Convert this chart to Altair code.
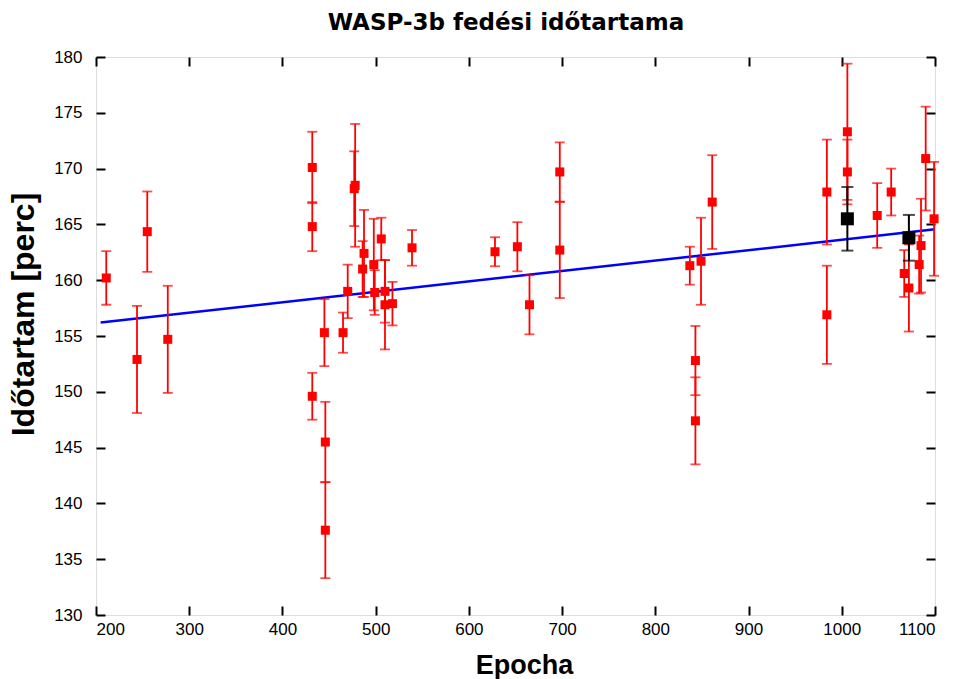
import altair as alt
import pandas as pd

TITLE = "WASP-3b fedési időtartama"

# Red measurements: epoch, duration [min], error
red_epoch = [211, 244, 255, 277, 432, 432, 432, 445, 446, 446, 465, 470, 477, 478,
             486, 487.5, 498, 499, 506, 510, 510, 518, 539, 628, 652, 665, 697.5,
             697.5, 837, 843, 843, 849, 861, 984, 984, 1006, 1006, 1038, 1053, 1067,
             1072, 1083, 1085, 1090, 1099]
red_dur = [160.2, 152.9, 164.35, 154.7, 170.1, 164.8, 149.6, 155.3, 145.5, 137.6,
           155.3, 159.0, 168.2, 168.5, 161.0, 162.4, 161.4, 158.9, 163.7, 159.0,
           157.8, 157.9, 162.9, 162.55, 163.0, 157.8, 169.7, 162.7, 161.3, 152.8,
           147.4, 161.7, 167.0, 167.9, 156.9, 173.3, 169.7, 165.8, 167.9, 160.6,
           159.3, 161.4, 163.1, 170.9, 165.5]
red_err = [2.4, 4.8, 3.6, 4.8, 3.2, 2.2, 2.1, 3.0, 3.6, 4.3, 1.8, 2.4, 3.35, 5.5,
           2.5, 3.9, 4.1, 2.0, 1.9, 2.8, 4.0, 1.95, 1.6, 1.3, 2.2, 2.65, 2.65, 4.3,
           1.7, 3.1, 3.9, 3.9, 4.2, 4.7, 4.4, 6.1, 2.9, 2.9, 2.1, 2.1, 3.9, 2.6,
           4.2, 4.65, 5.1]

# Black measurements
blk_epoch = [1006, 1072]
blk_dur = [165.5, 163.8]
blk_err = [2.85, 2.05]

# Fitted linear trend (end points)
fit_epoch = [205, 1100]
fit_dur = [156.2, 164.56]

x_ticks = [200, 300, 400, 500, 600, 700, 800, 900, 1000, 1100]
y_ticks = [130, 135, 140, 145, 150, 155, 160, 165, 170, 175, 180]

red = pd.DataFrame({"e": red_epoch, "d": red_dur, "err": red_err})
red["lo"] = red["d"] - red["err"]
red["hi"] = red["d"] + red["err"]
blk = pd.DataFrame({"e": blk_epoch, "d": blk_dur, "err": blk_err})
blk["lo"] = blk["d"] - blk["err"]
blk["hi"] = blk["d"] + blk["err"]
fit = pd.DataFrame({"e": fit_epoch, "d": fit_dur})

FONT = "Liberation Sans"
xs = alt.Scale(domain=[200, 1100], nice=False, zero=False)
ys = alt.Scale(domain=[130, 180], nice=False, zero=False)

lab_common = dict(grid=False, domain=False, labelFont=FONT, labelFontSize=17,
                  labelColor="black", titleFont=FONT, titleFontWeight="bold",
                  titleColor="black", format="d")

x_main = alt.Axis(values=x_ticks, orient="bottom", ticks=False, tickSize=0,
                  labelPadding=6, title="Epocha", titleX=428, titleY=58,
                  titleFontSize=27,
                  titleBaseline="alphabetic", titleAlign="center", **lab_common)
y_main = alt.Axis(values=y_ticks, orient="left", ticks=False, tickSize=0,
                  labelPadding=14, title="Időtartam [perc]", titleX=-63,
                  titleY=257, titleAngle=-90, titleBaseline="alphabetic",
                  titleFontSize=32,
                  titleAlign="center", **lab_common)

def tick_axis(orient, values):
    return alt.Axis(values=values, orient=orient, offset=-9, tickSize=9,
                    tickWidth=2, tickColor="black", labels=False, domain=False,
                    grid=False, title=None)

base = alt.Chart(fit).mark_line(color="#0000ff", strokeWidth=2.5).encode(
    x=alt.X("e:Q", scale=xs, axis=x_main),
    y=alt.Y("d:Q", scale=ys, axis=y_main),
)

red_rule = alt.Chart(red).mark_rule(color="#ff0000", strokeWidth=1.8).encode(
    x=alt.X("e:Q", scale=xs, axis=tick_axis("bottom", x_ticks)),
    y=alt.Y("lo:Q", scale=ys, axis=tick_axis("left", y_ticks)),
    y2="hi:Q",
)
red_cap_lo = alt.Chart(red).mark_tick(color="#ff0000", orient="horizontal",
                                      size=10, thickness=1.8).encode(
    x=alt.X("e:Q", scale=xs, axis=tick_axis("top", x_ticks)),
    y=alt.Y("lo:Q", scale=ys, axis=tick_axis("right", y_ticks)),
)
red_cap_hi = alt.Chart(red).mark_tick(color="#ff0000", orient="horizontal",
                                      size=10, thickness=1.8).encode(
    x=alt.X("e:Q", scale=xs, axis=None),
    y=alt.Y("hi:Q", scale=ys, axis=None),
)
red_pts = alt.Chart(red).mark_square(color="#ff0000", opacity=1, size=81).encode(
    x=alt.X("e:Q", scale=xs, axis=None),
    y=alt.Y("d:Q", scale=ys, axis=None),
)
blk_rule = alt.Chart(blk).mark_rule(color="black", strokeWidth=2).encode(
    x=alt.X("e:Q", scale=xs, axis=None),
    y=alt.Y("lo:Q", scale=ys, axis=None),
    y2="hi:Q",
)
blk_cap_lo = alt.Chart(blk).mark_tick(color="black", orient="horizontal",
                                      size=12, thickness=2).encode(
    x=alt.X("e:Q", scale=xs, axis=None),
    y=alt.Y("lo:Q", scale=ys, axis=None),
)
blk_cap_hi = alt.Chart(blk).mark_tick(color="black", orient="horizontal",
                                      size=12, thickness=2).encode(
    x=alt.X("e:Q", scale=xs, axis=None),
    y=alt.Y("hi:Q", scale=ys, axis=None),
)
blk_pts = alt.Chart(blk).mark_square(color="black", opacity=1, size=169).encode(
    x=alt.X("e:Q", scale=xs, axis=None),
    y=alt.Y("d:Q", scale=ys, axis=None),
)

title_mark = alt.Chart(pd.DataFrame({"t": [TITLE]})).mark_text(
    font="DejaVu Sans", fontSize=23, fontWeight="bold", color="black",
    align="center", baseline="alphabetic",
).encode(x=alt.value(410), y=alt.value(-27), text="t:N")

chart = alt.layer(
    base, red_rule, red_cap_lo, red_cap_hi, red_pts,
    blk_rule, blk_cap_lo, blk_cap_hi, blk_pts, title_mark,
).resolve_axis(x="independent", y="independent").properties(
    width=839, height=558,
    autosize="none",
    padding={"left": 96, "top": 57, "right": 24, "bottom": 64},
).configure_view(stroke="black", strokeWidth=2).configure(background="white")

chart.save("out.html", embed_options={"renderer": "svg", "actions": False})
